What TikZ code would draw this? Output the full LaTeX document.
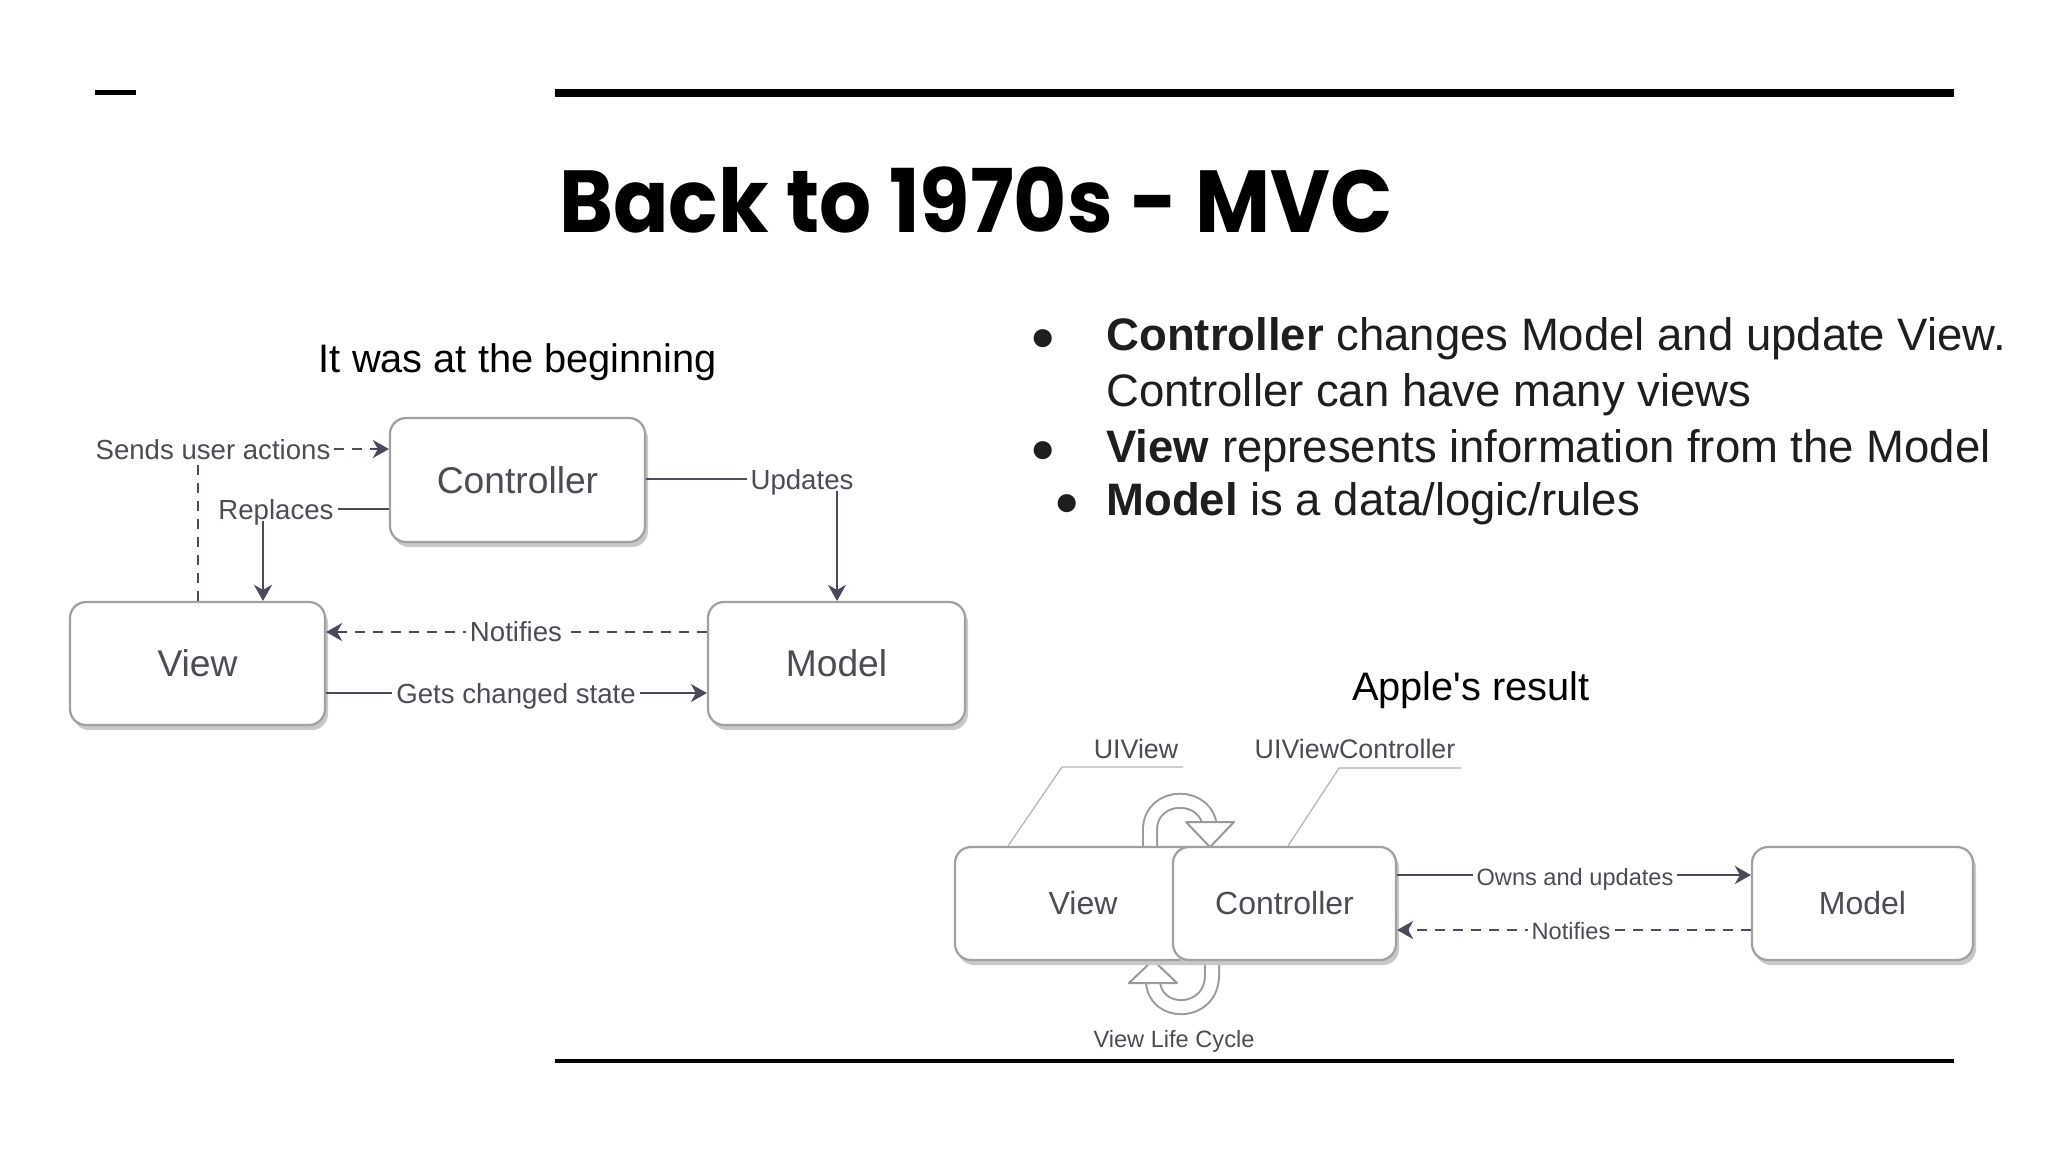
\documentclass[tikz,border=0pt]{standalone}
\usepackage{fontspec}
\setmainfont{Liberation Sans}
\newfontfamily\titlefont{Poppins}
\usetikzlibrary{arrows.meta,shadows}
\definecolor{txtc}{HTML}{4C4C55}
\definecolor{linec}{HTML}{4A4A5A}
\definecolor{boxc}{HTML}{A0A0A0}
\definecolor{shadc}{HTML}{C8C8C8}
\definecolor{cycc}{HTML}{9A9A9A}
\definecolor{leadc}{HTML}{B4B4B4}
\definecolor{bodyc}{HTML}{1E1E1E}
\newcommand{\sq}{\XeTeXglyph\XeTeXcharglyph"27\relax}
\tikzset{
  box/.style={draw=boxc, line width=1.1pt, fill=white, rounded corners=8pt,
    drop shadow={shadow xshift=1.5pt, shadow yshift=-2.5pt, fill=shadc, opacity=1},
    text=txtc, inner sep=0pt},
  bigbox/.style={box, font=\fontsize{18.6}{20}\selectfont, minimum width=127.5pt, minimum height=61.5pt},
  smallbox/.style={box, font=\fontsize{16}{18}\selectfont, minimum height=56.5pt},
  conn/.style={draw=linec, line width=1.3pt, -{Stealth[length=8pt,width=9pt,inset=2.5pt]}},
  dsh/.style={dash pattern=on 5pt off 4pt},
  lbl/.style={fill=white, text=txtc, inner xsep=2pt, inner ysep=1pt, text height=0.72em, text depth=0pt},
  lblL/.style={lbl, font=\fontsize{13.8}{15}\selectfont},
  lblA/.style={lbl, font=\fontsize{11.8}{13}\selectfont},
  lblU/.style={lbl, font=\fontsize{13.4}{15}\selectfont},
  cyc/.style={draw=cycc, line width=1pt, double=white, double distance=6pt},
  cychead/.style={draw=cycc, line width=1pt, fill=white, line join=round},
  lead/.style={draw=leadc, line width=0.6pt},
  body/.style={text=bodyc, inner sep=0pt, anchor=base west, font=\fontsize{22.75}{26}\selectfont},
  bul/.style={text=bodyc, inner sep=0pt, anchor=base, font=\fontsize{21}{26}\selectfont},
  capt/.style={text=black, inner sep=0pt, anchor=base, font=\fontsize{19.9}{22}\selectfont}
}
\begin{document}
\begin{tikzpicture}[x=0.5pt,y=-0.5pt]
\fill[white] (0,0) rectangle (2048,1152);
\useasboundingbox (0,0) rectangle (2048,1152);

% header / footer rules
\fill[black] (95,90) rectangle (136,94.5);
\fill[black] (555,89) rectangle (1954,97);
\fill[black] (555,1059) rectangle (1954,1063);

\node[anchor=base west, inner sep=0pt, text=black, font=\titlefont\bfseries\fontsize{44}{50}\selectfont] (title) at (559,232) {\scalebox{0.93}[1]{Back to 1970s - MVC}};

% captions
\node[capt] (cap1) at (518,372) {It was at the beginning};
\node[capt] (cap2) at (1471,700) {Apple\sq s result};

% bullets
\node[bul] (b1) at (1043,350) {●};
\node[body] (t1) at (1106,350) {\textbf{Controller} changes Model and update View.};
\node[body] (t2) at (1106,406) {Controller can have many views};
\node[bul] (b3) at (1043,462) {●};
\node[body] (t3) at (1106,462) {\textbf{View} represents information from the Model};
\node[bul] (b4) at (1067,515) {●};
\node[body] (t4) at (1106,515) {\textbf{Model} is a data/logic/rules};

% ---------- left diagram ----------
\node[bigbox, minimum height=62pt] (cL) at (517.5,480) {Controller};
\node[bigbox] (vL) at (197.5,663.5) {View};
\node[bigbox, minimum width=128.5pt] (mL) at (836.5,663.5) {Model};

\coordinate (sa) at (198,449);
\coordinate (rp) at (263,509);
\coordinate (up) at (837,479);
\coordinate (nf) at (0,632);
\coordinate (gc) at (0,693);

\draw[conn,dsh] (vL.north -| sa) -- (sa) -- (cL.west |- sa);
\draw[conn] (cL.west |- rp) -- (rp) -- (vL.north -| rp);
\draw[conn] (cL.east |- up) -- (up) -- (mL.north -| up);
\draw[conn,dsh] (mL.west |- nf) -- (vL.east |- nf);
\draw[conn] (vL.east |- gc) -- (mL.west |- gc);

\node[lblL] (lsa) at (213,452) {Sends user actions};
\node[lblL] (lrp) at (276,512) {Replaces};
\node[lblL] (lup) at (802,482) {Updates};
\node[lblL] (lnf) at (516,634) {Notifies};
\node[lblL] (lgc) at (516,696) {Gets changed state};

% ---------- Apple diagram ----------
\coordinate (uv1) at (1183,767);
\coordinate (uv2) at (1062,767);
\coordinate (uc1) at (1461,768);
\coordinate (uc2) at (1339,768);
\coordinate (uvf) at (1008,0);
\coordinate (ucf) at (1288,0);
\node[lblU, fill=none] (luv) at (1136,751) {UIView};
\node[lblU, fill=none] (luc) at (1355,751) {UIViewController};

% life cycle arrows (behind boxes)
\draw[cyc] (1150,850) -- (1150,830) .. controls (1150,791) and (1210,791) .. (1210,830);
\draw[cychead] (1186,822) -- (1234,822) -- (1210,847) -- cycle;
\draw[cyc] (1153,980) .. controls (1153,1017) and (1212,1017) .. (1212,975) -- (1212,955);
\draw[cychead] (1129,983) -- (1177,983) -- (1153,960) -- cycle;

\node[smallbox, minimum width=128pt] (vA) at (1083,903.5) {View};
\node[smallbox, minimum width=111.5pt] (cA) at (1284.5,903.5) {Controller};
\node[smallbox, minimum width=110.5pt] (mA) at (1862.5,903.5) {Model};

\draw[lead] (uv1) -- (uv2) -- (vA.north -| uvf);
\draw[lead] (uc1) -- (uc2) -- (cA.north -| ucf);

\coordinate (ow) at (0,875);
\coordinate (nA) at (0,930);
\draw[conn] (cA.east |- ow) -- (mA.west |- ow);
\draw[conn,dsh] (mA.west |- nA) -- (cA.east |- nA);
\node[lblA] (low) at (1575,878) {Owns and updates};
\node[lblA] (lna) at (1571,932) {Notifies};

\node[lblA, fill=none] (lvc) at (1174,1040) {View Life Cycle};
\end{tikzpicture}
\end{document}
